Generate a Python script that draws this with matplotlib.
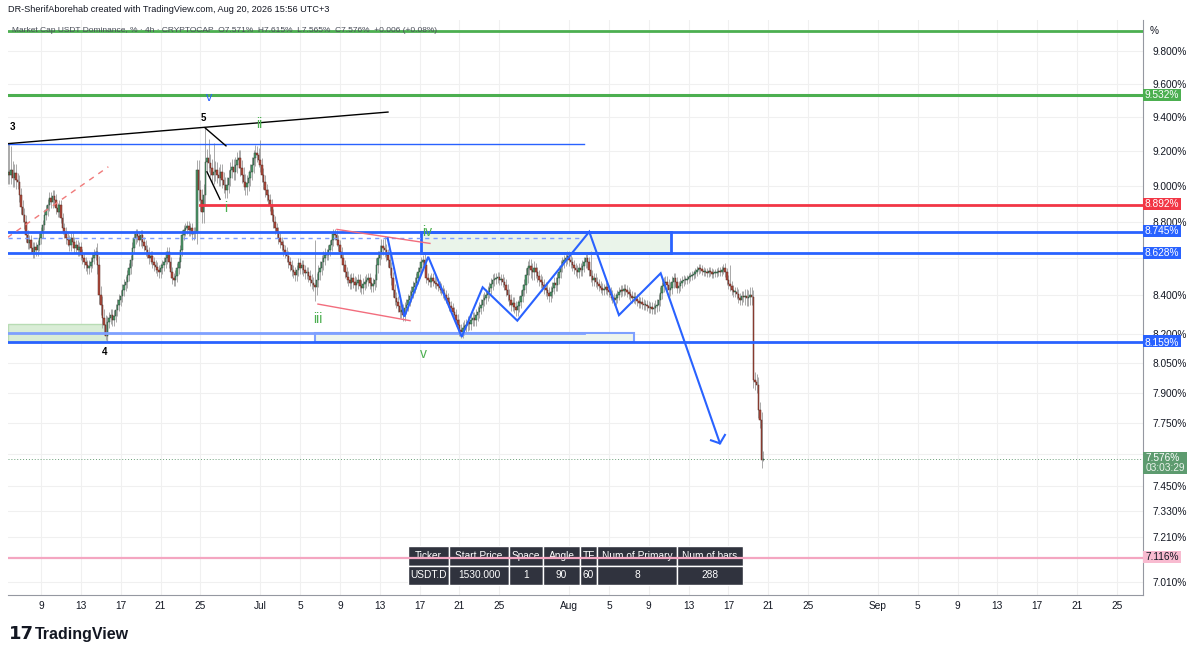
import matplotlib
matplotlib.use('Agg')
import matplotlib.pyplot as plt
from matplotlib.patches import Rectangle
from matplotlib.ticker import NullLocator, NullFormatter

plt.rcParams['font.family'] = ['Liberation Sans', 'DejaVu Sans']

W, H = 1199, 656

# 4h closes, USDT.D %, one row = one day (6 candles), first candle Jun 5 16:00
closes = [
    9.080, 9.063, 9.091, 9.046, 9.074, 9.034,
    9.023, 8.949, 8.882, 8.837, 8.798, 8.726,
    8.682, 8.698, 8.655, 8.633, 8.660, 8.644,
    8.671, 8.709, 8.742, 8.781, 8.837, 8.865,
    8.893, 8.932, 8.910, 8.943, 8.921, 8.876,
    8.854, 8.893, 8.820, 8.764, 8.742, 8.709,
    8.698, 8.671, 8.709, 8.687, 8.655, 8.671,
    8.644, 8.660, 8.617, 8.600, 8.578, 8.562,
    8.546, 8.557, 8.578, 8.600, 8.617, 8.633,
    8.562, 8.402, 8.349, 8.280, 8.244, 8.187,
    8.260, 8.280, 8.296, 8.270, 8.291, 8.323,
    8.349, 8.375, 8.396, 8.428, 8.455, 8.471,
    8.508, 8.546, 8.589, 8.655, 8.709, 8.731,
    8.720, 8.698, 8.726, 8.687, 8.666, 8.644,
    8.628, 8.600, 8.611, 8.578, 8.562, 8.551,
    8.535, 8.524, 8.546, 8.562, 8.578, 8.600,
    8.633, 8.578, 8.524, 8.492, 8.482, 8.503,
    8.546, 8.578, 8.644, 8.726, 8.753, 8.764,
    8.776, 8.753, 8.764, 8.731, 8.742, 8.737,
    9.091, 8.977, 8.921, 8.854, 8.949, 9.137,
    9.160, 9.131, 9.103, 9.063, 9.080, 9.091,
    9.063, 9.046, 9.080, 9.034, 9.006, 8.977,
    9.006, 9.046, 9.091, 9.108, 9.080, 9.120,
    9.149, 9.160, 9.103, 9.063, 9.023, 8.994,
    9.017, 9.046, 9.080, 9.120, 9.160, 9.190,
    9.178, 9.149, 9.120, 9.063, 9.023, 8.977,
    8.949, 8.921, 8.893, 8.837, 8.798, 8.764,
    8.742, 8.709, 8.687, 8.671, 8.644, 8.628,
    8.611, 8.578, 8.562, 8.535, 8.524, 8.508,
    8.535, 8.573, 8.546, 8.562, 8.535, 8.519,
    8.524, 8.503, 8.482, 8.466, 8.455, 8.444,
    8.482, 8.524, 8.546, 8.578, 8.600, 8.617,
    8.617, 8.644, 8.671, 8.698, 8.731, 8.726,
    8.698, 8.671, 8.633, 8.600, 8.562, 8.524,
    8.498, 8.482, 8.466, 8.492, 8.471, 8.455,
    8.466, 8.482, 8.450, 8.439, 8.460, 8.471,
    8.482, 8.492, 8.466, 8.450, 8.460, 8.482,
    8.562, 8.600, 8.633, 8.666, 8.655, 8.644,
    8.617, 8.589, 8.546, 8.492, 8.428, 8.386,
    8.365, 8.344, 8.312, 8.323, 8.296, 8.333,
    8.349, 8.375, 8.396, 8.418, 8.444, 8.466,
    8.492, 8.524, 8.546, 8.578, 8.589, 8.562,
    8.492, 8.482, 8.471, 8.492, 8.476, 8.466,
    8.460, 8.450, 8.439, 8.428, 8.412, 8.402,
    8.386, 8.365, 8.344, 8.333, 8.312, 8.296,
    8.270, 8.244, 8.218, 8.208, 8.228, 8.239,
    8.244, 8.260, 8.249, 8.270, 8.280, 8.270,
    8.296, 8.312, 8.333, 8.349, 8.375, 8.386,
    8.402, 8.418, 8.439, 8.460, 8.482, 8.487,
    8.492, 8.498, 8.482, 8.487, 8.471, 8.455,
    8.428, 8.402, 8.375, 8.349, 8.360, 8.339,
    8.323, 8.344, 8.365, 8.396, 8.428, 8.455,
    8.508, 8.546, 8.557, 8.535, 8.524, 8.546,
    8.524, 8.503, 8.482, 8.471, 8.455, 8.439,
    8.428, 8.412, 8.396, 8.418, 8.439, 8.466,
    8.455, 8.492, 8.524, 8.557, 8.578, 8.589,
    8.600, 8.611, 8.589, 8.578, 8.562, 8.546,
    8.535, 8.524, 8.546, 8.535, 8.557, 8.578,
    8.600, 8.578, 8.535, 8.503, 8.482, 8.492,
    8.471, 8.460, 8.450, 8.439, 8.428, 8.433,
    8.444, 8.428, 8.418, 8.402, 8.386, 8.375,
    8.386, 8.402, 8.418, 8.428, 8.423, 8.433,
    8.428, 8.418, 8.407, 8.396, 8.386, 8.391,
    8.380, 8.370, 8.360, 8.365, 8.354, 8.349,
    8.349, 8.344, 8.333, 8.339, 8.328, 8.333,
    8.344, 8.349, 8.375, 8.412, 8.450, 8.466,
    8.471, 8.455, 8.428, 8.439, 8.471, 8.492,
    8.471, 8.439, 8.450, 8.466, 8.476, 8.482,
    8.482, 8.487, 8.498, 8.503, 8.508, 8.513,
    8.524, 8.535, 8.546, 8.540, 8.530, 8.524,
    8.524, 8.519, 8.530, 8.524, 8.513, 8.519,
    8.519, 8.524, 8.530, 8.524, 8.535, 8.546,
    8.524, 8.482, 8.460, 8.450, 8.428, 8.418,
    8.418, 8.407, 8.386, 8.375, 8.396, 8.391,
    8.396, 8.386, 8.391, 8.402, 8.391, 7.963,
    7.953, 7.938, 7.814, 7.765, 7.571, 7.576,
]
first_open = 9.060

# typical wick length per day (%)
day_wick = [
    0.05, 0.04, 0.03, 0.03, 0.035, 0.03, 0.03, 0.03, 0.03, 0.05,
    0.03, 0.03, 0.03, 0.03, 0.03, 0.03, 0.03, 0.03, 0.03, 0.06,
    0.05, 0.045, 0.045, 0.045, 0.045, 0.04, 0.035, 0.03, 0.03, 0.03,
    0.03, 0.04, 0.03, 0.03, 0.03, 0.03, 0.03, 0.04, 0.035, 0.03,
    0.03, 0.03, 0.025, 0.025, 0.025, 0.03, 0.03, 0.03, 0.03, 0.025,
    0.03, 0.03, 0.04, 0.03, 0.03, 0.03, 0.03, 0.03, 0.03, 0.025,
    0.025, 0.025, 0.025, 0.025, 0.025, 0.03, 0.03, 0.025, 0.02, 0.02,
    0.02, 0.02, 0.025, 0.025, 0.04, 0.04,
]
# candles with notably long wicks: index -> value
spike_hi = {0: 9.244, 1: 9.24, 2: 9.23, 119: 9.335, 121: 9.27, 124: 9.25,
            152: 9.265, 185: 8.70, 197: 8.76, 227: 8.72, 251: 8.62,
            351: 8.64, 435: 8.56, 455: 7.615}
spike_lo = {59: 8.165, 185: 8.37, 275: 8.19, 455: 7.565}

# horizontal levels (%)
lvl_top_green = 9.924
lvl_green = 9.532
lvl_red = 8.892
lvl_blue_hi = 8.745
lvl_blue_mid = 8.628
lvl_blue_lo = 8.159
lvl_pink = 7.116
last_price = 7.576

xtick_pos = [8, 12, 16, 20, 24, 30, 34, 38, 42, 46, 50, 54, 61, 65, 69, 73, 77, 81, 85,
             92, 96, 100, 104, 108, 112, 116]
xtick_lab = ['9', '13', '17', '21', '25', 'Jul', '5', '9', '13', '17', '21', '25', 'Aug',
             '5', '9', '13', '17', '21', '25', 'Sep', '5', '9', '13', '17', '21', '25']
ytick_pos = [9.8, 9.6, 9.4, 9.2, 9.0, 8.8, 8.6, 8.4, 8.2, 8.05, 7.9, 7.75, 7.6, 7.45,
             7.33, 7.21, 7.01]
# these sit under price tags on the scale, so their text is covered
ytick_hidden = [8.6, 7.6]

tbl_head = ['Ticker', 'Start Price', 'Space', 'Angle', 'TF', 'Num of Primary', 'Num of bars']
tbl_vals = ['USDT.D', '1530.000', '1', '90', '60', '8', '288']

legend = ('Market Cap USDT Dominance, % \u00b7 4h \u00b7 CRYPTOCAP  O7.571%  H7.615%  '
          'L7.565%  C7.576%  +0.006 (+0.08%)')

GREEN = '#4caf50'
BLUE = '#2962ff'
RED = '#f23645'
PINK = '#f4a6c1'
UP = '#4e9a6a'
DOWN = '#b04a3c'
TXT = '#131722'


def fx(px):
    return px / W


def fy(py):
    return 1 - py / H


fig = plt.figure(figsize=(W / 100, H / 100), dpi=100)
fig.patch.set_facecolor('white')
ax = fig.add_axes([fx(8), fy(595), (1143 - 8) / W, (595 - 20) / H])
ax.set_yscale('log')
ax.set_xlim(4.69, 118.61)
ax.set_ylim(6.953, 9.994)

# candles
t0 = 4.667
n = len(closes)
times = [t0 + i / 6 for i in range(n)]
opens = [first_open] + closes[:-1]
for i in range(n):
    o, c = opens[i], closes[i]
    w = day_wick[i // 6]
    hi = spike_hi.get(i, max(o, c) + w)
    lo = spike_lo.get(i, min(o, c) - w)
    ax.vlines(times[i], lo, hi, color='#a9a9a9', lw=0.7, zorder=2)
    up = c >= o
    b = min(o, c)
    h = max(abs(c - o), 0.004)
    ax.bar(times[i], h, bottom=b, width=0.15, color=UP if up else DOWN,
           edgecolor='#2d4a39' if up else '#5e2a22', lw=0.35, zorder=3)

# horizontal levels
ax.axhline(lvl_top_green, color=GREEN, lw=2, zorder=4)
ax.axhline(lvl_green, color=GREEN, lw=2.2, zorder=4)
ax.plot([23.96, 118.61], [lvl_red, lvl_red], color=RED, lw=2, zorder=4)
ax.axhline(lvl_blue_hi, color=BLUE, lw=2, zorder=4)
ax.axhline(lvl_blue_mid, color=BLUE, lw=2, zorder=4)
ax.axhline(lvl_blue_lo, color=BLUE, lw=2, zorder=4)
ax.axhline(lvl_pink, color=PINK, lw=1.6, zorder=6)
ax.axhline(last_price, color='#6a9f78', lw=0.7, ls=(0, (1, 2)), zorder=2)
ax.plot([4.69, 62.5], [9.24, 9.24], color=BLUE, lw=1, zorder=4)
ax.plot([4.69, 62.0], [8.709, 8.709], color='#7b9cff', lw=1, ls=(0, (3, 3)), zorder=4)
ax.plot([4.69, 62.5], [8.203, 8.203], color='#7ea0ff', lw=2, zorder=4)

# zones
ax.add_patch(Rectangle((4.69, lvl_blue_lo), 14.62 - 4.69, 8.250 - lvl_blue_lo,
                       facecolor='#d9edd6', edgecolor='#b8dcb4', lw=1, zorder=1))
ax.add_patch(Rectangle((35.5, lvl_blue_lo), 67.52 - 35.5, 8.203 - lvl_blue_lo,
                       facecolor='#eef5ee', edgecolor='#7ea0ff', lw=1.5, zorder=1))
ax.add_patch(Rectangle((46.14, lvl_blue_mid), 71.23 - 46.14, lvl_blue_hi - lvl_blue_mid,
                       facecolor='#eaf4ea', edgecolor=BLUE, lw=2, zorder=1))

# trend lines and wedges
ax.plot([4.69, 42.83], [9.244, 9.430], color='black', lw=1, zorder=5)
ax.plot([24.46, 26.57], [9.337, 9.231], color='black', lw=1, zorder=5)
ax.plot([24.66, 25.97], [9.081, 8.925], color='black', lw=1, zorder=5)
ax.plot([4.62, 14.76], [8.712, 9.110], color='#f07a7a', lw=1, ls=(0, (4, 4)), zorder=5)
ax.plot([37.71, 47.04], [8.757, 8.680], color='#f26d7d', lw=1, zorder=5)
ax.plot([35.80, 45.04], [8.354, 8.267], color='#f26d7d', lw=1, zorder=5)

# projected zigzag
zz_x = [42.80, 44.47, 46.87, 50.23, 52.33, 55.81, 63.03, 66.01, 70.20, 76.15]
zz_y = [8.708, 8.288, 8.607, 8.183, 8.443, 8.267, 8.744, 8.296, 8.518, 7.651]
ax.plot(zz_x, zz_y, color='#2962ff', lw=1.5, zorder=6, solid_joinstyle='miter')
ax.plot([75.25, 76.15, 76.65], [7.666, 7.651, 7.692], color='#2962ff', lw=1.5, zorder=6)

# wave labels
ax.text(4.9, 9.34, '3', fontsize=7, fontweight='bold', color='black', ha='left', va='center')
ax.text(24.26, 9.394, '5', fontsize=7, fontweight='bold', color='black', ha='center', va='center')
ax.text(14.42, 8.105, '4', fontsize=7, fontweight='bold', color='black', ha='center', va='center')
ax.text(24.86, 9.515, 'v', fontsize=9, color=BLUE, ha='center', va='center', zorder=7)
for lx, ly, s in [(29.88, 9.359, 'ii'), (26.57, 8.876, 'i'), (35.80, 8.275, 'iii'),
                  (46.74, 8.745, 'iv'), (46.34, 8.095, 'v')]:
    ax.text(lx, ly, s, fontsize=10, color='#4caf50', ha='center', va='center', zorder=7)

# axes styling
ax.set_xticks(xtick_pos)
ax.set_xticklabels(xtick_lab)
ax.yaxis.set_minor_locator(NullLocator())
ax.yaxis.set_minor_formatter(NullFormatter())
ax.set_yticks(ytick_pos)
ax.set_yticklabels(['' if v in ytick_hidden else '%.3f%%' % v for v in ytick_pos])
ax.yaxis.tick_right()
ax.tick_params(axis='both', length=0, labelsize=7.3, labelcolor=TXT)
ax.tick_params(axis='y', pad=7)
ax.tick_params(axis='x', pad=4)
ax.grid(True, color='#f0f0f0', lw=0.8, zorder=0)
ax.set_axisbelow(True)
for s in ['top', 'left']:
    ax.spines[s].set_visible(False)
ax.spines['right'].set_color('#9598a1')
ax.spines['bottom'].set_color('#9598a1')


# price labels on the scale
def scale_label(py, txt, bg, fg='white', h=12, dy=0):
    fig.add_artist(Rectangle((fx(1143), fy(py + h / 2)), 38 / W, h / H,
                             transform=fig.transFigure, facecolor=bg, lw=0, zorder=10))
    fig.text(fx(1162), fy(py + dy), txt, fontsize=7.3, color=fg, ha='center', va='center',
             zorder=11)


scale_label(95, '9.532%', GREEN)
scale_label(204, '8.892%', RED)
scale_label(231, '8.745%', BLUE)
scale_label(253, '8.628%', BLUE)
scale_label(341, '8.159%', BLUE, dy=1.5)
scale_label(557, '7.116%', '#f8bbd0', fg=TXT)
fig.add_artist(Rectangle((fx(1143), fy(474)), 44 / W, 22 / H, transform=fig.transFigure,
                         facecolor='#5d9b6f', lw=0, zorder=10))
fig.text(fx(1146), fy(458), '7.576%', fontsize=7.3, color='white', va='center', zorder=11)
fig.text(fx(1146), fy(468), '03:03:29', fontsize=7.3, color='#e8f2ea', va='center', zorder=11)
fig.text(fx(1150), fy(31), '%', fontsize=7.3, color=TXT, va='center')

# table (drawn under the pink level)
cols = [408, 449, 509, 543, 580, 597, 677, 743]
for row, y0, y1 in [(tbl_head, 546, 565.5), (tbl_vals, 565.5, 585)]:
    for k in range(len(row)):
        ax.add_patch(Rectangle((fx(cols[k]), fy(y1)), (cols[k + 1] - cols[k]) / W,
                               (y1 - y0) / H, transform=fig.transFigure, clip_on=False,
                               facecolor='#30333e', edgecolor='white', lw=1, zorder=5))
        ax.text(fx((cols[k] + cols[k + 1]) / 2), fy((y0 + y1) / 2), row[k],
                transform=fig.transFigure, fontsize=7.3, color='white',
                ha='center', va='center', zorder=5.5)

# header, legend and logo
fig.text(fx(8), fy(9), 'DR-SherifAborehab created with TradingView.com, Aug 20, 2026 15:56 UTC+3',
         fontsize=6.6, color=TXT, va='center')
fig.text(fx(12), fy(31), legend, fontsize=6.0, color='#4a4e59', va='center')
fig.text(fx(9), fy(634), '17', fontsize=13, fontweight='heavy', color=TXT, va='center',
         family='DejaVu Sans')
fig.text(fx(35), fy(634), 'TradingView', fontsize=11.5, fontweight='bold', color=TXT,
         va='center')

fig.savefig('out.png', dpi=100, facecolor='white')
